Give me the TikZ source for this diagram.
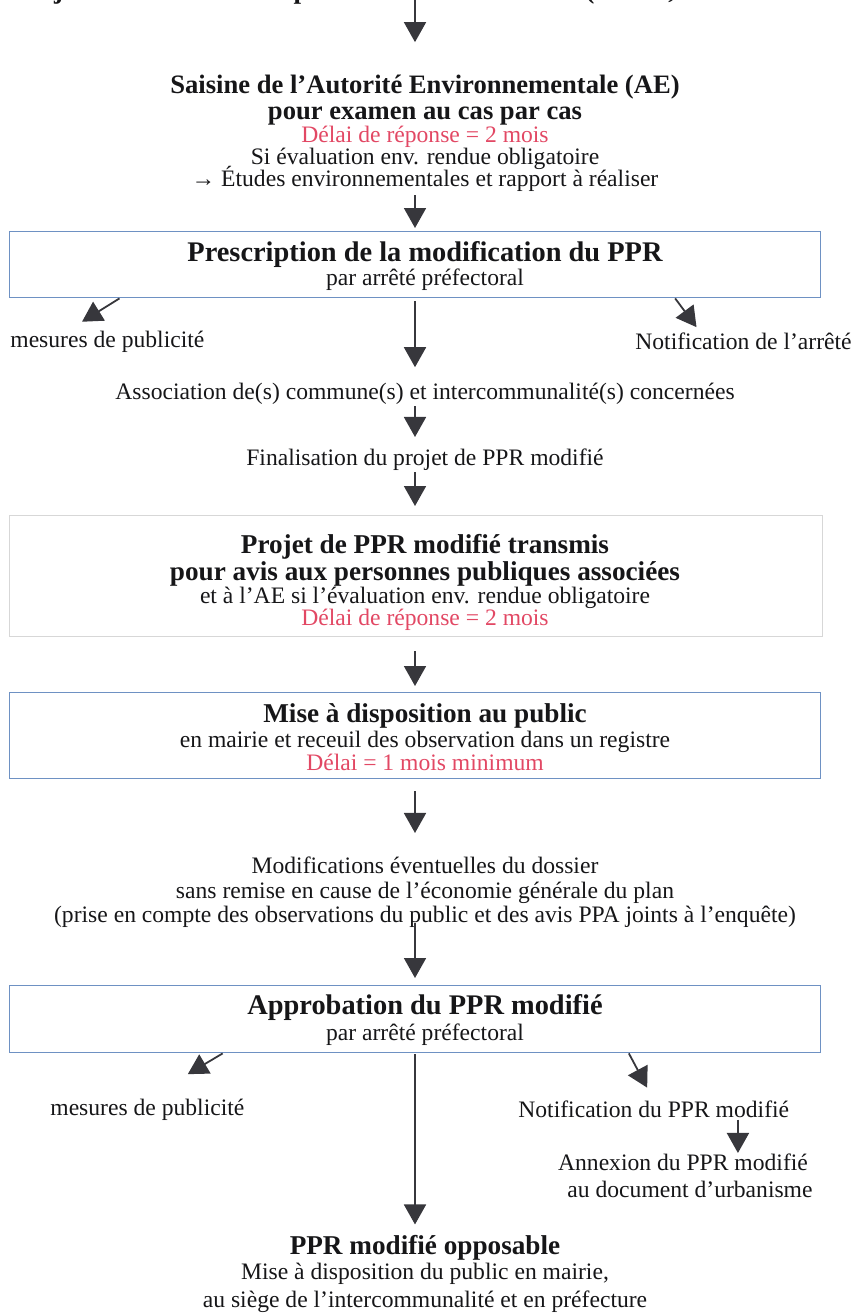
\documentclass[tikz,border=0pt]{standalone}
\usepackage{fontspec}
\setmainfont{Liberation Serif}
\usetikzlibrary{positioning,arrows.meta,calc}
\definecolor{ppInk}{RGB}{22,22,24}
\definecolor{ppArrow}{RGB}{55,55,60}
\definecolor{ppFrame}{RGB}{110,145,195}
\definecolor{ppPale}{RGB}{215,215,215}
\definecolor{ppRed}{RGB}{226,72,100}

\begin{document}
\begin{tikzpicture}[x=0.5pt, y=-0.5pt,
    every node/.style={inner sep=0pt, text=ppInk},
    ln/.style={anchor=base, font=\fontsize{11.8}{13}\selectfont},
    dl/.style={ln, text=ppRed},
    hd/.style={anchor=base, font=\fontsize{13.6}{15}\selectfont\bfseries},
    frame/.style={draw=ppFrame, line width=0.7pt, anchor=north west, minimum width=405.5pt},
    flow/.style={ppArrow, line width=0.9pt, -{Triangle[width=11pt,length=10pt]}}]
  \useasboundingbox (0,0) rectangle (854,1313);
  \coordinate (ax) at (415,0);

  % cropped first step
  \node[hd, anchor=base west] (dossier) at (12,-2) {Projet : élaboration des pièces de la modification (études, dossier de modification)};

  % saisine AE
  \node[hd, font=\fontsize{13.3}{15}\selectfont\bfseries] (sai1) at (425,93) {Saisine de l’Autorité Environnementale (AE)};
  \node[hd, font=\fontsize{13.3}{15}\selectfont\bfseries] (sai2) at (425,119) {pour examen au cas par cas};
  \node[dl] (sai3) at (425,142) {Délai de réponse = 2 mois};
  \node[ln] (sai4) at (425,164) {Si évaluation env. rendue obligatoire};
  \node[ln] (sai5) at (425,186) {→ Études environnementales et rapport à réaliser};

  % prescription
  \node[frame, minimum height=33pt] (presc) at (9,231) {};
  \node[hd, font=\fontsize{14.2}{15}\selectfont\bfseries] (presc1) at (425,261) {Prescription de la modification du PPR};
  \node[ln] (presc2) at (425,285) {par arrêté préfectoral};
  \node[ln, anchor=base west] (pub1) at (10,347) {mesures de publicité};
  \node[ln, anchor=base east] (notif1) at (852,349) {Notification de l’arrêté};

  \node[ln] (assoc) at (425,399) {Association de(s) commune(s) et intercommunalité(s) concernées};
  \node[ln] (final) at (425,465) {Finalisation du projet de PPR modifié};

  % avis PPA
  \node[frame, draw=ppPale, minimum width=406.5pt, minimum height=60.5pt] (avis) at (9,515) {};
  \node[hd] (avis1) at (425,553) {Projet de PPR modifié transmis};
  \node[hd] (avis2) at (425,580) {pour avis aux personnes publiques associées};
  \node[ln] (avis3) at (425,603) {et à l’AE si l’évaluation env. rendue obligatoire};
  \node[dl] (avis4) at (425,625) {Délai de réponse = 2 mois};

  % mise a disposition
  \node[frame, minimum height=43pt] (mad) at (9,692) {};
  \node[hd] (mad1) at (425,722) {Mise à disposition au public};
  \node[ln] (mad2) at (425,747) {en mairie et receuil des observation dans un registre};
  \node[dl] (mad3) at (425,770) {Délai = 1 mois minimum};

  \node[ln] (modif1) at (425,873) {Modifications éventuelles du dossier};
  \node[ln] (modif2) at (425,898) {sans remise en cause de l’économie générale du plan};
  \node[ln] (modif3) at (425,922) {(prise en compte des observations du public et des avis PPA joints à l’enquête)};

  % approbation
  \node[frame, minimum height=33.5pt] (appro) at (9,985) {};
  \node[hd, font=\fontsize{14.2}{15}\selectfont\bfseries] (appro1) at (425,1014) {Approbation du PPR modifié};
  \node[ln] (appro2) at (425,1040) {par arrêté préfectoral};
  \node[ln, anchor=base west] (pub2) at (50,1115) {mesures de publicité};
  \node[ln, anchor=base west] (notif2) at (518,1117) {Notification du PPR modifié};
  \node[ln] (annex1) at (683,1170) {Annexion du PPR modifié};
  \node[ln] (annex2) at (690,1197) {au document d’urbanisme};

  \node[hd] (oppo1) at (425,1254) {PPR modifié opposable};
  \node[ln] (oppo2) at (425,1279) {Mise à disposition du public en mairie,};
  \node[ln] (oppo3) at (425,1307) {au siège de l’intercommunalité et en préfecture};

  % connectors
  \draw[flow, shorten <=-4pt, shorten >=16pt] (dossier.south -| ax) -- (sai1.north -| ax);
  \draw[flow, shorten <=2pt, shorten >=1.5pt] (sai5.south -| ax) -- (presc.north -| ax);
  \draw[flow, shorten <=1.5pt, shorten >=7.5pt] (presc.south -| ax) -- (assoc.north -| ax);
  \draw[flow, shorten <=1pt, shorten >=5.5pt] (assoc.south -| ax) -- (final.north -| ax);
  \draw[flow, shorten <=1pt, shorten >=4.5pt] (final.south -| ax) -- (avis.north -| ax);
  \draw[flow, shorten <=7pt, shorten >=3pt] (avis.south -| ax) -- (mad.north -| ax);
  \draw[flow, shorten <=6pt, shorten >=11.5pt] (mad.south -| ax) -- (modif1.north -| ax);
  \draw[flow, shorten <=-2pt, shorten >=3.5pt] (modif3.south -| ax) -- (appro.north -| ax);
  \draw[flow, shorten <=0.5pt, shorten >=5pt] (appro.south -| ax) -- (oppo1.north -| ax);

  \draw[flow, shorten >=8pt] ($(presc.south west)!0.136!(presc.south east)$) -- ($(pub1.north west)!0.3!(pub1.north east)$);
  \draw[flow, shorten >=3pt] ($(presc.south west)!0.82!(presc.south east)$) -- ($(notif1.north west)!0.3!(notif1.north east)$);
  \draw[flow, shorten >=23.5pt] ($(appro.south west)!0.263!(appro.south east)$) -- (pub2.north);
  \draw[flow, shorten >=7pt] ($(appro.south west)!0.763!(appro.south east)$) -- (notif2.north);
  \draw[flow, shorten <=1pt] ($(notif2.south west)!0.81!(notif2.south east)$) coordinate (n2s) -- (n2s |- annex1.north);
\end{tikzpicture}
\end{document}
